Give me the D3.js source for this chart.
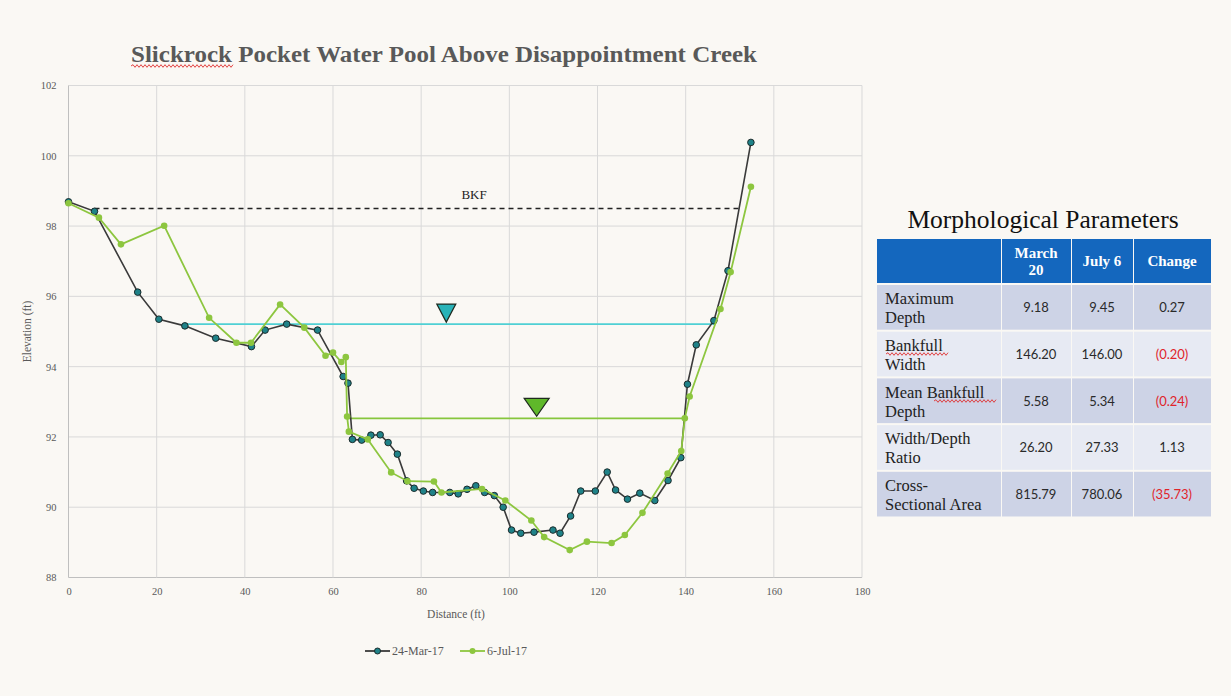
<!DOCTYPE html>
<html><head><meta charset="utf-8">
<script src="https://cdn.jsdelivr.net/npm/d3@7"></script>
<style>
html,body{margin:0;padding:0;background:#faf8f4;}
svg{display:block;}
</style></head>
<body>
<svg id="chart" width="1231" height="696"></svg>
<script>
// ---------- DATA ----------
const marchX = [0,5.9,15.7,20.5,26.4,33.4,41.5,44.6,49.5,56.5,62.3,63.4,64.4,66.5,68.6,70.7,72.5,74.6,76.7,78.4,80.5,82.6,86.5,88.4,90.4,92.4,94.4,96.6,98.6,100.5,102.6,105.6,109.9,111.5,113.9,116.2,119.5,122.2,124.1,126.8,129.6,133.0,136.0,138.9,140.4,142.4,146.4,149.6,154.8];
const marchY = [98.69,98.42,96.12,95.35,95.16,94.81,94.57,95.04,95.21,95.04,93.72,93.53,91.93,91.91,92.05,92.06,91.84,91.51,90.75,90.54,90.46,90.42,90.42,90.38,90.51,90.61,90.42,90.33,90.0,89.35,89.26,89.29,89.35,89.26,89.75,90.46,90.46,91.0,90.49,90.23,90.4,90.19,90.76,91.41,93.5,94.62,95.31,96.73,100.38];
const julyX = [0,6.9,11.9,21.7,31.9,38.1,41.4,48.0,53.5,58.3,60.0,61.9,62.9,63.2,63.6,67.9,73.2,76.9,82.9,84.6,93.8,99.1,105.0,107.9,113.7,117.6,123.2,126.2,130.2,135.9,139.0,139.8,140.9,147.9,150.2,154.8];
const julyY = [98.65,98.24,97.48,98.01,95.39,94.68,94.68,95.77,95.11,94.31,94.4,94.13,94.27,92.58,92.15,91.93,90.99,90.74,90.73,90.42,90.52,90.19,89.62,89.15,88.78,89.02,88.98,89.21,89.84,90.96,91.6,92.53,93.15,95.64,96.69,99.12];
const seriesNames = ["24-Mar-17","6-Jul-17"];
const xTicks = [0,20,40,60,80,100,120,140,160,180];
const yTicks = [88,90,92,94,96,98,100,102];
const bkf = {x0:5.9, x1:152.2, y:98.5, label:"BKF", labelX:92};
const waterMarch = {x0:26.4, x1:146.4, y:95.21, tri:85.7};
const waterJuly = {x0:63.4, x1:139.8, y:92.53, tri:106.2};
// table
const tableTitle = "Morphological Parameters";
const tableHeaders = ["", "March\n20", "July 6", "Change"];
const tableRows = [["Maximum","Depth"],["Bankfull","Width"],["Mean Bankfull","Depth"],["Width/Depth","Ratio"],["Cross-","Sectional Area"]];
const tableMarch = ["9.18","146.20","5.58","26.20","815.79"];
const tableJuly = ["9.45","146.00","5.34","27.33","780.06"];
const tableChange = ["0.27","(0.20)","(0.24)","1.13","(35.73)"];

// ---------- CHART ----------
const svg = d3.select("#chart");
svg.append("rect").attr("width",1231).attr("height",696).attr("fill","#faf8f4");

const x = d3.scaleLinear().domain([0,180]).range([68.5,862]);
const y = d3.scaleLinear().domain([88,102]).range([577.5,85.5]);
const serif = "'Liberation Serif', 'DejaVu Serif', serif";

// gridlines
const g = svg.append("g");
g.selectAll("line.h").data(yTicks).join("line")
  .attr("x1",x(0)).attr("x2",x(180)).attr("y1",d=>y(d)).attr("y2",d=>y(d))
  .attr("stroke",d=>d===88?"#bfbfbf":"#d9d9d9").attr("stroke-width",1);
g.selectAll("line.v").data(xTicks).join("line")
  .attr("y1",y(88)).attr("y2",y(102)).attr("x1",d=>x(d)).attr("x2",d=>x(d))
  .attr("stroke",d=>d===0?"#bfbfbf":"#d9d9d9").attr("stroke-width",1);

// axes labels via d3 axes
const xAxis = d3.axisBottom(x).tickValues(xTicks).tickSize(0).tickPadding(10);
const yAxis = d3.axisLeft(y).tickValues(yTicks).tickSize(0).tickPadding(12);
const gx = svg.append("g").attr("transform",`translate(0,${y(88)})`).call(xAxis);
const gy = svg.append("g").attr("transform",`translate(${x(0)},0)`).call(yAxis);
[gx,gy].forEach(a=>{a.select(".domain").remove();
  a.selectAll("text").attr("font-family",serif).attr("font-size",10.5).attr("fill","#595959");});

svg.append("text").attr("x",456).attr("y",618).attr("text-anchor","middle")
  .attr("font-family",serif).attr("font-size",11.5).attr("fill","#595959").text("Distance (ft)");
svg.append("text").attr("transform",`translate(31,${(y(88)+y(102))/2}) rotate(-90)`).attr("text-anchor","middle")
  .attr("font-family",serif).attr("font-size",11.5).attr("fill","#595959").text("Elevation (ft)");

// title
svg.append("text").attr("x",444).attr("y",62).attr("text-anchor","middle")
  .attr("font-family",serif).attr("font-weight","bold").attr("font-size",23).attr("fill","#595959")
  .attr("textLength",626).attr("lengthAdjust","spacingAndGlyphs")
  .text("Slickrock Pocket Water Pool Above Disappointment Creek");
function squiggle(x0,x1,yy){
  let p=`M${x0},${yy}`; let up=true;
  for(let xx=x0+2;xx<=x1;xx+=2){p+=`L${xx},${yy+(up?-1.3:1.3)}`;up=!up;}
  svg.append("path").attr("d",p).attr("fill","none").attr("stroke","#e03030").attr("stroke-width",0.9);
}
squiggle(131,233,66);

// BKF dashed line
svg.append("line").attr("x1",x(bkf.x0)).attr("x2",x(bkf.x1)).attr("y1",y(bkf.y)).attr("y2",y(bkf.y))
  .attr("stroke","#222").attr("stroke-width",1.5).attr("stroke-dasharray","5,4");
svg.append("text").attr("x",x(bkf.labelX)).attr("y",y(bkf.y)-10).attr("text-anchor","middle")
  .attr("font-family",serif).attr("font-size",13).attr("fill","#222").text(bkf.label);

// water lines
svg.append("line").attr("x1",x(waterMarch.x0)).attr("x2",x(waterMarch.x1)).attr("y1",y(waterMarch.y)).attr("y2",y(waterMarch.y))
  .attr("stroke","#4fd0d4").attr("stroke-width",1.6);
svg.append("line").attr("x1",x(waterJuly.x0)).attr("x2",x(waterJuly.x1)).attr("y1",y(waterJuly.y)).attr("y2",y(waterJuly.y))
  .attr("stroke","#86c63c").attr("stroke-width",1.8);
function tri(cx,tipY,w,h,fill){
  svg.append("path").attr("d",`M${cx-w/2},${tipY-h}L${cx+w/2},${tipY-h}L${cx},${tipY}Z`)
    .attr("fill",fill).attr("stroke","#1f2a1f").attr("stroke-width",1.2);
}
tri(x(waterMarch.tri), y(waterMarch.y)-2, 19, 18, "#29b3b8");
tri(x(waterJuly.tri), y(waterJuly.y)-2, 25, 18, "#5fb82a");

// series
const line = d3.line().x(d=>x(d[0])).y(d=>y(d[1]));
const march = marchX.map((v,i)=>[v,marchY[i]]);
const july = julyX.map((v,i)=>[v,julyY[i]]);
svg.append("path").datum(march).attr("d",line).attr("fill","none").attr("stroke","#3a3a3a").attr("stroke-width",1.6);
svg.selectAll("circle.m").data(march).join("circle").attr("cx",d=>x(d[0])).attr("cy",d=>y(d[1])).attr("r",3.3)
  .attr("fill","#1f8288").attr("stroke","#1b2b2b").attr("stroke-width",1);
svg.append("path").datum(july).attr("d",line).attr("fill","none").attr("stroke","#8dc63f").attr("stroke-width",1.8);
svg.selectAll("circle.j").data(july).join("circle").attr("cx",d=>x(d[0])).attr("cy",d=>y(d[1])).attr("r",3.3)
  .attr("fill","#8dc63f");

// legend
const legend = [{name:seriesNames[0],x:365,stroke:"#3a3a3a",fill:"#1f8288",ms:"#1b2b2b"},
                {name:seriesNames[1],x:460,stroke:"#8dc63f",fill:"#8dc63f",ms:"none"}];
legend.forEach(l=>{
  svg.append("line").attr("x1",l.x).attr("x2",l.x+25).attr("y1",651).attr("y2",651).attr("stroke",l.stroke).attr("stroke-width",1.8);
  svg.append("circle").attr("cx",l.x+12.5).attr("cy",651).attr("r",3).attr("fill",l.fill).attr("stroke",l.ms);
  svg.append("text").attr("x",l.x+27).attr("y",655).attr("font-family",serif).attr("font-size",12).attr("fill","#595959").text(l.name);
});

// ---------- TABLE ----------
svg.append("text").attr("x",1043).attr("y",228).attr("text-anchor","middle")
  .attr("font-family",serif).attr("font-size",25.5).attr("fill","#111").text(tableTitle);
const colX = [877,1001,1071,1133,1211];
const headTop = 239, headBot = 283, rowH = 46.7;
const tg = svg.append("g");
for(let c=0;c<4;c++){
  tg.append("rect").attr("x",colX[c]+(c?1:0)).attr("y",headTop).attr("width",colX[c+1]-colX[c]-(c?1:0)).attr("height",headBot-headTop).attr("fill","#1467be");
  const lines = tableHeaders[c].split("\n");
  const cx = (colX[c]+colX[c+1])/2;
  lines.forEach((t,i)=>{
    tg.append("text").attr("x",cx).attr("y",(headTop+headBot)/2+5+(i-(lines.length-1)/2)*17)
      .attr("text-anchor","middle").attr("font-family",serif).attr("font-weight","bold").attr("font-size",15)
      .attr("fill","#fff").text(t);
  });
}
tableRows.forEach((lab,r)=>{
  const top = headBot+2+r*rowH, h = rowH-2;
  const fill = r%2===0 ? "#cdd3e6" : "#e7eaf3";
  for(let c=0;c<4;c++){
    tg.append("rect").attr("x",colX[c]+(c?1:0)).attr("y",top).attr("width",colX[c+1]-colX[c]-(c?1:0)).attr("height",h).attr("fill",fill);
  }
  lab.forEach((t,i)=>{
    tg.append("text").attr("x",885).attr("y",top+h/2-3+i*19).attr("font-family",serif).attr("font-size",16.5).attr("fill","#222").text(t);
  });
  const vals=[tableMarch[r],tableJuly[r],tableChange[r]];
  vals.forEach((v,i)=>{
    tg.append("text").attr("x",(colX[i+1]+colX[i+2])/2).attr("y",top+h/2+5).attr("text-anchor","middle")
      .attr("font-family","Lato, 'Open Sans', sans-serif").attr("font-size",13)
      .attr("fill", v.startsWith("(")?"#e0242b":"#2a2a2a").text(v);
  });
});
// spell-check squiggles in table
squiggle(886,948,354);
squiggle(934,996,401);
</script>
</body></html>
